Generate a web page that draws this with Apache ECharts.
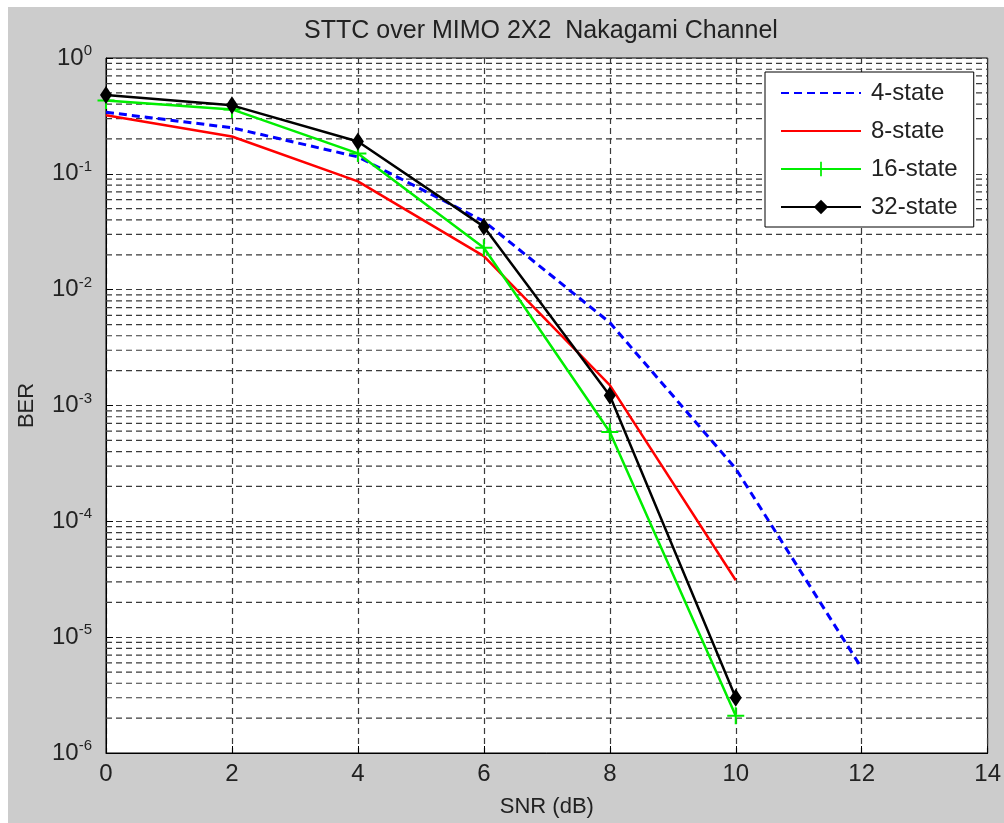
<!DOCTYPE html>
<html>
<head>
<meta charset="utf-8">
<script src="https://cdn.jsdelivr.net/npm/echarts@6/dist/echarts.min.js"></script>
<style>
html,body{margin:0;padding:0;background:#fff;}
#chart{width:1004px;height:823px;}
</style>
</head>
<body>
<div id="chart"></div>
<script>
const snr = [0, 2, 4, 6, 8, 10, 12];
const state4 = [0.34, 0.25, 0.14, 0.039, 0.0052, 0.000285, 0.0000054];
const state8 = [0.32, 0.21, 0.086, 0.0195, 0.0015, 0.000031];
const state16 = [0.43, 0.36, 0.15, 0.023, 0.00059, 0.0000021];
const state32 = [0.48, 0.39, 0.19, 0.035, 0.00122, 0.000003];
const seriesNames = ['4-state', '8-state', '16-state', '32-state'];
const xRange = [0, 14];
const decades = [-6, -5, -4, -3, -2, -1, 0];
const minorMult = [2, 3, 4, 5, 6, 7, 8, 9];

// minor horizontal grid lines (log decades x 2..9), broken with '-' gaps
const minorGridData = [];
decades.slice(0, -1).forEach(d => minorMult.forEach(m => {
  const v = m * Math.pow(10, d);
  minorGridData.push([xRange[0], v], [xRange[1], v], [xRange[1], '-']);
}));

function pairs(ys) { return ys.map((y, i) => [snr[i], y]); }

const font = '"Liberation Sans", Arial, sans-serif';
const txt = '#222';
const gridStyle = {type: [6, 4], color: '#3a3a3a', width: 1.2};
const plusPath = 'path://M4.4,0H5.6V4.4H10V5.6H5.6V10H4.4V5.6H0V4.4H4.4Z';

const chart = echarts.init(document.getElementById('chart'), null, {renderer: 'canvas'});
chart.setOption({
  backgroundColor: '#ffffff',
  animation: false,
  graphic: [
    {type: 'rect', z: -10, silent: true, shape: {x: 8, y: 7, width: 1000, height: 820}, style: {fill: '#cccccc'}},
    {type: 'text', z: 10, x: 541, y: 31, style: {text: 'STTC over MIMO 2X2  Nakagami Channel', textAlign: 'center', textVerticalAlign: 'middle', font: '25px ' + font, fill: txt}}
  ],
  grid: {left: 106, top: 58, width: 885, height: 697, show: true, backgroundColor: '#ffffff', borderColor: '#000', borderWidth: 1},
  legend: {
    data: [
      {name: '4-state', itemStyle: {opacity: 0}},
      {name: '8-state', itemStyle: {opacity: 0}},
      {name: '16-state'},
      {name: '32-state'}
    ],
    orient: 'vertical',
    left: 765, top: 72,
    backgroundColor: '#ffffff',
    borderColor: '#000', borderWidth: 1,
    padding: [9, 16, 8, 15],
    itemWidth: 80, itemHeight: 18, itemGap: 14,
    textStyle: {fontFamily: font, fontSize: 24, lineHeight: 24, color: txt, padding: [0, 0, 0, 5]}
  },
  xAxis: {
    type: 'value', min: xRange[0], max: xRange[1], interval: 2,
    name: 'SNR (dB)', nameLocation: 'middle', nameGap: 43,
    nameTextStyle: {fontFamily: font, fontSize: 22, color: txt},
    axisLine: {lineStyle: {color: '#000', width: 1}},
    axisTick: {inside: true, length: 7, lineStyle: {color: '#000'}},
    axisLabel: {fontFamily: font, fontSize: 24, color: txt, margin: 9},
    splitLine: {show: true, lineStyle: gridStyle}
  },
  yAxis: {
    type: 'log', logBase: 10, min: 1e-6, max: 1,
    name: 'BER', nameLocation: 'middle', nameGap: 68,
    nameTextStyle: {fontFamily: font, fontSize: 22, color: txt},
    axisLine: {lineStyle: {color: '#000', width: 1}},
    axisTick: {inside: true, length: 7, lineStyle: {color: '#000'}},
    axisLabel: {
      margin: 14,
      formatter: function (v) {
        const e = Math.round(Math.log10(v));
        return '{b|10}{s|' + e + '}';
      },
      rich: {
        b: {fontFamily: font, fontSize: 24, color: txt},
        s: {fontFamily: font, fontSize: 15, color: txt, verticalAlign: 'top', padding: [0, 0, 14, 0]}
      }
    },
    splitLine: {show: true, lineStyle: gridStyle}
  },
  series: [
    {
      name: 'minor-grid', type: 'line', data: minorGridData, silent: true,
      symbol: 'none', connectNulls: false, z: 1,
      lineStyle: gridStyle
    },
    {
      name: '4-state', type: 'line', data: pairs(state4), symbol: 'none',
      lineStyle: {color: '#0000ff', width: 3, type: [8, 5]}, itemStyle: {color: '#0000ff'}, z: 3
    },
    {
      name: '8-state', type: 'line', data: pairs(state8), symbol: 'none',
      lineStyle: {color: '#ff0000', width: 2.5}, itemStyle: {color: '#ff0000'}, z: 4
    },
    {
      name: '16-state', type: 'line', data: pairs(state16), symbol: plusPath, symbolSize: 17,
      lineStyle: {color: '#00ee00', width: 2.5}, itemStyle: {color: '#00ee00'}, z: 5
    },
    {
      name: '32-state', type: 'line', data: pairs(state32), symbol: 'diamond', symbolSize: [12, 18],
      lineStyle: {color: '#000000', width: 2.5}, itemStyle: {color: '#000000'}, z: 6
    }
  ]
});
</script>
</body>
</html>
